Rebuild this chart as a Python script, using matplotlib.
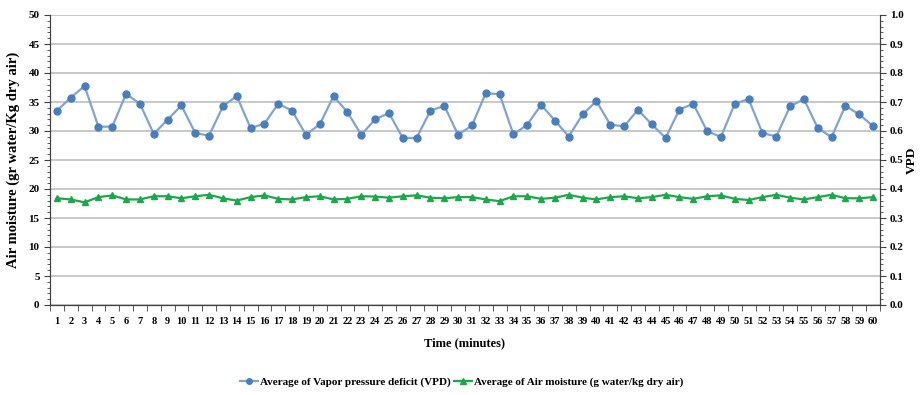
import numpy as np
import matplotlib.pyplot as plt
from matplotlib.ticker import MultipleLocator, FormatStrFormatter

plt.rcParams['font.family'] = ['Liberation Serif', 'DejaVu Serif']
plt.rcParams['font.weight'] = 'bold'

minutes = list(range(1, 61))

vpd = [0.670, 0.715, 0.755, 0.615, 0.615, 0.728, 0.694, 0.590, 0.639, 0.688,
       0.593, 0.584, 0.685, 0.721, 0.610, 0.625, 0.694, 0.670, 0.587, 0.623,
       0.720, 0.665, 0.587, 0.640, 0.662, 0.576, 0.576, 0.670, 0.687, 0.587,
       0.619, 0.730, 0.727, 0.588, 0.622, 0.690, 0.636, 0.581, 0.657, 0.703,
       0.622, 0.616, 0.673, 0.623, 0.576, 0.674, 0.694, 0.600, 0.579, 0.694,
       0.710, 0.593, 0.581, 0.685, 0.710, 0.610, 0.579, 0.687, 0.657, 0.617]

air_moisture = [18.4, 18.2, 17.7, 18.6, 18.9, 18.2, 18.2, 18.75, 18.75, 18.4,
                18.75, 19.0, 18.4, 18.0, 18.6, 18.9, 18.3, 18.2, 18.6, 18.75,
                18.2, 18.3, 18.75, 18.7, 18.5, 18.75, 18.9, 18.5, 18.4, 18.6,
                18.6, 18.2, 17.9, 18.75, 18.75, 18.3, 18.5, 19.0, 18.5, 18.2,
                18.6, 18.75, 18.4, 18.6, 19.0, 18.6, 18.3, 18.75, 18.9, 18.3,
                18.1, 18.6, 19.0, 18.5, 18.2, 18.6, 19.0, 18.4, 18.4, 18.6]

blue_line = '#7FA3D3'
blue_mark = '#4A7EBB'
green = '#1BA84A'

fig = plt.figure(figsize=(9.23, 3.95), dpi=100)
ax = fig.add_axes([50 / 923, 90 / 395, 830 / 923, 290 / 395])
ax2 = ax.twinx()

# gridlines on the left axis
ax.set_ylim(0, 50)
ax.set_xlim(0.5, 60.5)
ax.yaxis.set_major_locator(MultipleLocator(5))
ax.yaxis.set_minor_locator(MultipleLocator(1))
ax.grid(axis='y', color='#BFBFBF', linewidth=1.2)
ax.set_axisbelow(True)

ax.plot(minutes, air_moisture, color=green, linewidth=1.6, marker='^',
        markersize=5, markerfacecolor=green, markeredgecolor=green,
        label='Average of Air moisture (g water/kg dry air)', zorder=3)

ax2.set_ylim(0, 1.0)
ax2.yaxis.set_major_locator(MultipleLocator(0.1))
ax2.yaxis.set_minor_locator(MultipleLocator(0.02))
ax2.yaxis.set_major_formatter(FormatStrFormatter('%.1f'))
ax2.plot(minutes, vpd, color=blue_line, linewidth=1.6, marker='o',
         markersize=5, markerfacecolor=blue_mark, markeredgecolor=blue_mark,
         label='Average of Vapor pressure deficit (VPD)', zorder=3)

# x ticks: labels centred, tick marks at category boundaries
ax.set_xticks(minutes)
ax.set_xticklabels([str(m) for m in minutes], fontsize=7.5)
ax.tick_params(axis='x', which='major', length=0, pad=9)
ax.set_xticks(np.arange(0.5, 61, 1), minor=True)
ax.tick_params(axis='x', which='minor', length=4, direction='out', color='#404040')

ax.tick_params(axis='y', which='major', labelsize=8, length=4, color='#404040')
ax.tick_params(axis='y', which='minor', length=2, color='#404040')
ax2.tick_params(axis='y', which='major', labelsize=8, length=4, pad=3, color='#404040')
ax2.tick_params(axis='y', which='minor', length=2, color='#404040')

for a in (ax, ax2):
    a.spines['top'].set_visible(False)
    a.spines['left'].set_color('#404040')
    a.spines['right'].set_color('#404040')
    a.spines['bottom'].set_color('#404040')

ax.set_ylabel('Air moisture (gr water/Kg dry air)', fontsize=10.5, fontweight='bold', labelpad=6)
ax2.set_ylabel('VPD', fontsize=9.5, fontweight='bold')
ax2.yaxis.set_label_coords(1.031, 0.5)
ax.set_xlabel('Time (minutes)', fontsize=9, fontweight='bold', labelpad=8)

h1, l1 = ax2.get_legend_handles_labels()
h2, l2 = ax.get_legend_handles_labels()
fig.legend(h1 + h2, l1 + l2, loc='center', bbox_to_anchor=(0.5, 0.032), ncol=2,
           frameon=False, fontsize=8, handlelength=1.6, handletextpad=0.2,
           columnspacing=0.3, markerscale=0.8)

fig.savefig('out.png', dpi=100)
